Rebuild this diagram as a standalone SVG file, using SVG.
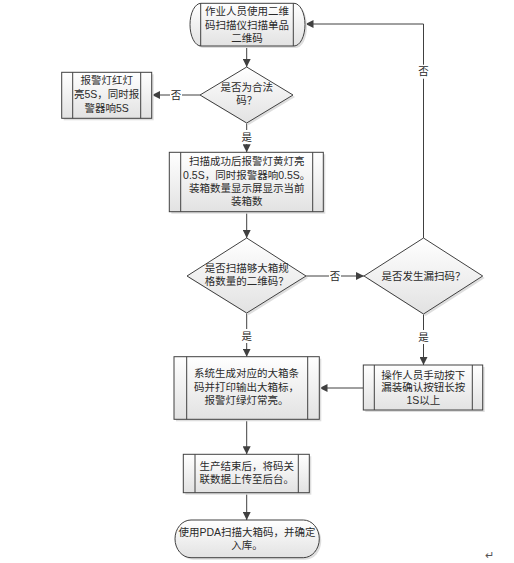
<svg xmlns="http://www.w3.org/2000/svg" width="514" height="563" viewBox="0 0 514 563">
<defs>
<linearGradient id="g" x1="0" y1="0" x2="0" y2="1">
<stop offset="0" stop-color="#ffffff"/>
<stop offset="1" stop-color="#e2e2e2"/>
</linearGradient>
<marker id="ah" markerWidth="8" markerHeight="8" refX="8" refY="4" orient="auto" markerUnits="userSpaceOnUse">
<path d="M0,0 L8,4 L0,8 Z" fill="#404040"/>
</marker>
<style>
.shape{fill:url(#g);stroke:#404040;stroke-width:1}
.shadow{fill:#dedede;stroke:none}
.in{stroke:#404040;stroke-width:1;fill:none}
.edge{stroke:#404040;stroke-width:1;fill:none}
.arr{marker-end:url(#ah)}
text{font-family:"Liberation Sans","Noto Sans CJK SC",sans-serif;font-size:10.5px;fill:#2a2a2a;text-anchor:middle}
.lbl{fill:#fff;stroke:none}
</style>
</defs>
<rect width="514" height="563" fill="#ffffff"/>

<g id="connectors">
<line class="edge arr" x1="246.7" y1="46" x2="246.7" y2="67"/>
<line class="edge arr" x1="200" y1="95" x2="152" y2="95"/>
<line class="edge arr" x1="246.7" y1="123" x2="246.7" y2="152.3"/>
<line class="edge arr" x1="246.7" y1="211.7" x2="246.7" y2="238"/>
<line class="edge arr" x1="306" y1="276" x2="364" y2="276"/>
<polyline class="edge arr" points="423.5,238 423.5,24 305.5,24"/>
<line class="edge arr" x1="423.5" y1="314" x2="423.5" y2="365"/>
<line class="edge arr" x1="363" y1="388" x2="319.5" y2="388"/>
<line class="edge arr" x1="246.7" y1="313" x2="246.7" y2="356.7"/>
<line class="edge arr" x1="246.7" y1="419.3" x2="246.7" y2="454.3"/>
<line class="edge arr" x1="246.7" y1="492.7" x2="246.7" y2="520"/>
<rect class="lbl" x="170" y="88" width="12" height="14"/>
<text x="176" y="98.7">否</text>
<rect class="lbl" x="240.7" y="130" width="12" height="14"/>
<text x="246.7" y="140.7">是</text>
<rect class="lbl" x="329" y="269" width="12" height="14"/>
<text x="335" y="279.7">否</text>
<rect class="lbl" x="417.5" y="64.7" width="12" height="14"/>
<text x="423.5" y="75.4">否</text>
<rect class="lbl" x="417.5" y="330" width="12" height="14"/>
<text x="423.5" y="340.7">是</text>
<rect class="lbl" x="240.7" y="329" width="12" height="14"/>
<text x="246.7" y="339.7">是</text>
</g>

<g id="start">
<rect class="shadow" x="192" y="5.3" width="115" height="42.7" rx="11" ry="21.35"/>
<rect class="shape" x="190" y="3.3" width="115" height="42.7" rx="11" ry="21.35"/>
<line class="in" x1="200.7" y1="3.3" x2="200.7" y2="46"/>
<line class="in" x1="293.3" y1="3.3" x2="293.3" y2="46"/>
<text x="247" y="15.4">作业人员使用二维<tspan x="247" dy="13.3">码扫描仪扫描单品</tspan><tspan x="247" dy="13.3">二维码</tspan></text>
</g>

<g id="d1">
<polygon class="shadow" points="248.7,69 295,97 248.7,125 202,97"/>
<polygon class="shape" points="246.7,67 293,95 246.7,123 200,95"/>
<text x="246.7" y="91">是否为合法<tspan x="246.7" dy="12.7">码？</tspan></text>
</g>

<g id="alarm-red">
<rect class="shadow" x="63.7" y="74.3" width="90" height="46"/>
<rect class="shape" x="61.7" y="72.3" width="90" height="46"/>
<line class="in" x1="72.7" y1="72.3" x2="72.7" y2="118.3"/>
<line class="in" x1="140.7" y1="72.3" x2="140.7" y2="118.3"/>
<text x="106.7" y="84.4">报警灯红灯<tspan x="106.7" dy="13.6">亮5S，同时报</tspan><tspan x="106.7" dy="13.7">警器响5S</tspan></text>
</g>

<g id="scan-ok">
<rect class="shadow" x="171.3" y="154.3" width="154" height="59.4"/>
<rect class="shape" x="169.3" y="152.3" width="154" height="59.4"/>
<line class="in" x1="180.7" y1="152.3" x2="180.7" y2="211.7"/>
<line class="in" x1="312.7" y1="152.3" x2="312.7" y2="211.7"/>
<text x="246.7" y="165.4">扫描成功后报警灯黄灯亮<tspan x="246.7" dy="13.3">0.5S，同时报警器响0.5S。</tspan><tspan x="246.7" dy="13.3">装箱数量显示屏显示当前</tspan><tspan x="246.7" dy="13.4">装箱数</tspan></text>
</g>

<g id="d2">
<polygon class="shadow" points="248.7,240 308,278 248.7,315 189,278"/>
<polygon class="shape" points="246.7,238 306,276 246.7,313 187,276"/>
<text x="246.7" y="272">是否扫描够大箱规<tspan x="246.7" dy="13.4">格数量的二维码？</tspan></text>
</g>

<g id="d3">
<polygon class="shadow" points="425.5,240 484.7,278 425.5,316 366,278"/>
<polygon class="shape" points="423.5,238 482.7,276 423.5,314 364,276"/>
<text x="423.5" y="279.7">是否发生漏扫码？</text>
</g>

<g id="manual">
<rect class="shadow" x="365.3" y="367" width="119.4" height="45"/>
<rect class="shape" x="363.3" y="365" width="119.4" height="45"/>
<line class="in" x1="374.3" y1="365" x2="374.3" y2="410"/>
<line class="in" x1="472.3" y1="365" x2="472.3" y2="410"/>
<text x="423.3" y="378.7">操作人员手动按下<tspan x="423.3" dy="12.7">漏装确认按钮长按</tspan><tspan x="423.3" dy="12.6">1S以上</tspan></text>
</g>

<g id="gen-label">
<rect class="shadow" x="176" y="358.7" width="145.3" height="62.6"/>
<rect class="shape" x="174" y="356.7" width="145.3" height="62.6"/>
<line class="in" x1="186.7" y1="356.7" x2="186.7" y2="419.3"/>
<line class="in" x1="307.7" y1="356.7" x2="307.7" y2="419.3"/>
<text x="246.5" y="377.2">系统生成对应的大箱条<tspan x="246.5" dy="13.5">码并打印输出大箱标，</tspan><tspan x="246.5" dy="13.5">报警灯绿灯常亮。</tspan></text>
</g>

<g id="upload">
<rect class="shadow" x="185.3" y="456.3" width="126" height="38.4"/>
<rect class="shape" x="183.3" y="454.3" width="126" height="38.4"/>
<line class="in" x1="195" y1="454.3" x2="195" y2="492.7"/>
<line class="in" x1="298.3" y1="454.3" x2="298.3" y2="492.7"/>
<text x="246.7" y="470.4">生产结束后，将码关<tspan x="246.7" dy="12.6">联数据上传至后台。</tspan></text>
</g>

<g id="end">
<rect class="shadow" x="177" y="522" width="144.3" height="37.7" rx="16" ry="18.85"/>
<rect class="shape" x="175" y="520" width="144.3" height="37.7" rx="16" ry="18.85"/>
<text x="247" y="536.4">使用PDA扫描大箱码，并确定<tspan x="247" dy="12.3">入库。</tspan></text>
</g>

<text x="489" y="559" style="font-size:11px;fill:#555">↵</text>
</svg>
